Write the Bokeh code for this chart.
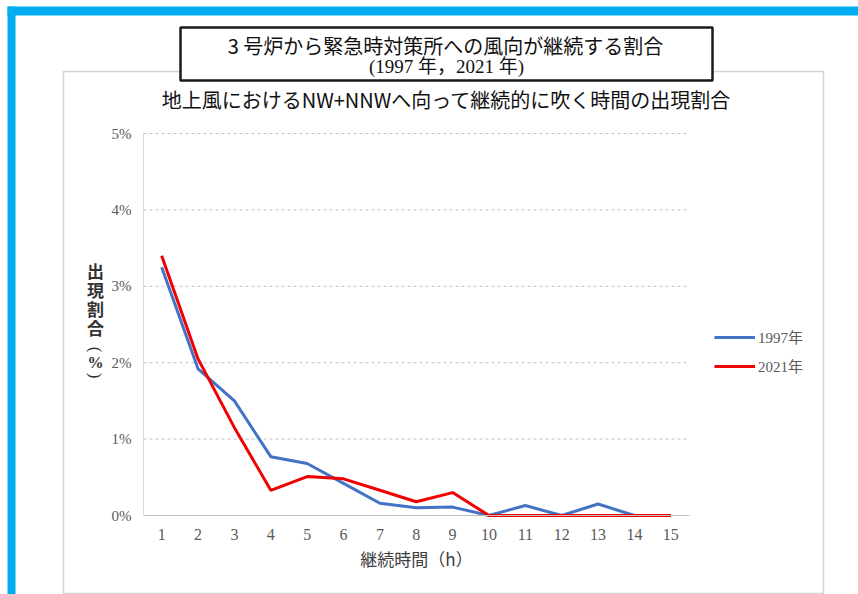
import math
from bokeh.plotting import figure
from bokeh.models import (Legend, LegendItem, Label, BoxAnnotation, Range1d, FixedTicker)
from bokeh.embed import file_html
from bokeh.resources import INLINE

# ---- data ----
hours = list(range(1, 16))
rate_1997 = [3.25, 1.92, 1.50, 0.77, 0.68, 0.42, 0.16, 0.10, 0.11, 0.00, 0.13, 0.00, 0.15, 0.00, 0.00]
rate_2021 = [3.40, 2.05, 1.15, 0.33, 0.51, 0.48, 0.33, 0.18, 0.30, 0.00, 0.00, 0.00, 0.00, 0.00, 0.00]
y_ticks = [0, 1, 2, 3, 4, 5]
y_tick_labels = ["0%", "1%", "2%", "3%", "4%", "5%"]
series_names = ["1997年", "2021年"]
box_title_1 = "3 号炉から緊急時対策所への風向が継続する割合"
box_title_2 = "(1997 年，2021 年)"
chart_title = "地上風におけるNW+NNWへ向って継続的に吹く時間の出現割合"
x_label = "継続時間（h）"
y_label_chars = ["出", "現", "割", "合", "(", "%", ")"]

SERIF = "Liberation Serif, Noto Sans CJK JP"
JP = "Noto Sans CJK JP"

W, H = 858, 594
# plot-area placement on the page (pixels)
PL, PR, PT, PB = 143, 688.5, 133, 515
x0, x1 = hours[0] - 0.5, hours[-1] + 0.5
y0, y1 = y_ticks[0], y_ticks[-1]
kx = (PR - PL) / (x1 - x0)
ky = (PB - PT) / (y1 - y0)
xr = Range1d(x0 - PL / kx, x1 + (W - PR) / kx)
yr = Range1d(y0 - (H - PB) / ky, y1 + PT / ky)

p = figure(width=W, height=H, output_backend="svg", toolbar_location=None,
           min_border=0, x_range=xr, y_range=yr)
p.outline_line_color = None
p.background_fill_color = "white"
p.border_fill_color = "white"
p.xgrid.visible = False
p.ygrid.visible = False

# dashed gridlines inside the plot area
gy = y_ticks[1:]
p.segment(x0=[x0] * len(gy), x1=[x1] * len(gy), y0=gy, y1=gy,
          line_color="#BFBFBF", line_dash="3 3", line_width=1)

r1 = p.line(hours, rate_1997, line_color="#4472C4", line_width=3)
r2 = p.line(hours, rate_2021, line_color="#F00000", line_width=3)

# axes (fixed inside the frame)
p.xaxis.fixed_location = y0
p.yaxis.fixed_location = x0
p.xaxis.bounds = (x0, x1)
p.yaxis.bounds = (y0, y1)
p.xaxis.ticker = FixedTicker(ticks=hours)
p.yaxis.ticker = FixedTicker(ticks=y_ticks)
p.yaxis.major_label_overrides = {t: l for t, l in zip(y_ticks, y_tick_labels)}
for ax in (p.xaxis, p.yaxis):
    ax.major_tick_line_color = None
    ax.minor_tick_line_color = None
    ax.major_tick_out = 0
    ax.major_tick_in = 0
    ax.major_label_text_font = SERIF
    ax.major_label_text_color = "#595959"
p.xaxis.axis_line_color = "#BFBFBF"
p.yaxis.axis_line_color = "#D9D9D9"
p.xaxis.major_label_text_font_size = "16px"
p.yaxis.major_label_text_font_size = "15px"
p.yaxis.major_label_standoff = 12
p.xaxis.major_label_standoff = 13
p.xaxis.axis_label = x_label
p.xaxis.axis_label_text_font = JP
p.xaxis.axis_label_text_font_size = "17px"
p.xaxis.axis_label_text_font_style = "normal"
p.xaxis.axis_label_text_color = "#404040"
p.xaxis.axis_label_standoff = 3

# page -> screen coords (frame == canvas)
def sx(px):
    return px
def sy(py):
    return H - py

def box(l, r, t, b, **kw):
    p.add_layout(BoxAnnotation(left=sx(l), right=sx(r), top=sy(t), bottom=sy(b),
                               left_units="screen", right_units="screen",
                               top_units="screen", bottom_units="screen", **kw))

# blue page frame
box(7, 900, 6, 15, fill_color="#00AEEF", fill_alpha=1, line_color=None)
box(7, 15, 6, 700, fill_color="#00AEEF", fill_alpha=1, line_color=None)
# gray chart frame
box(63, 823, 71, 593, fill_alpha=0, line_color="#D4D4D4", line_alpha=1, line_width=1.5)
# title box
box(180, 712, 27, 80, fill_color="white", fill_alpha=1, line_color="#1A1A1A",
    line_alpha=1, line_width=2.5)

def label(text, px, py, size, font=JP, color="#111111", angle=0, style="normal"):
    p.add_layout(Label(x=sx(px), y=sy(py), x_units="screen", y_units="screen", text=text,
                       text_align="center", text_baseline="middle", text_font=font,
                       text_font_size=size, text_color=color, angle=angle,
                       text_font_style=style))

label(box_title_1, 445, 45, "20px")
label(box_title_2, 446, 66, "19px", font=SERIF)
label(chart_title, 446, 99, "20px")

y_pos = [270, 289, 308, 327, 349, 362, 375]
for ch, yy in zip(y_label_chars, y_pos):
    if ch in "()":
        label(ch, 95, yy, "17px", color="#333333", angle=-math.pi / 2, font=SERIF)
    elif ch == "%":
        label(ch, 95, yy, "16px", color="#333333", style="bold", font=SERIF)
    else:
        label(ch, 95, yy, "17px", color="#333333", style="bold")

legend = Legend(items=[LegendItem(label=series_names[0], renderers=[r1]),
                       LegendItem(label=series_names[1], renderers=[r2])],
                location=(sx(714), sy(376)), orientation="vertical",
                glyph_width=41, glyph_height=20, label_height=20, spacing=8,
                padding=0, margin=0, border_line_color=None, background_fill_alpha=0,
                label_standoff=3, label_text_font=SERIF, label_text_font_size="15px",
                label_text_color="#595959")
p.add_layout(legend)

open("out.html", "w").write(file_html(p, INLINE))
